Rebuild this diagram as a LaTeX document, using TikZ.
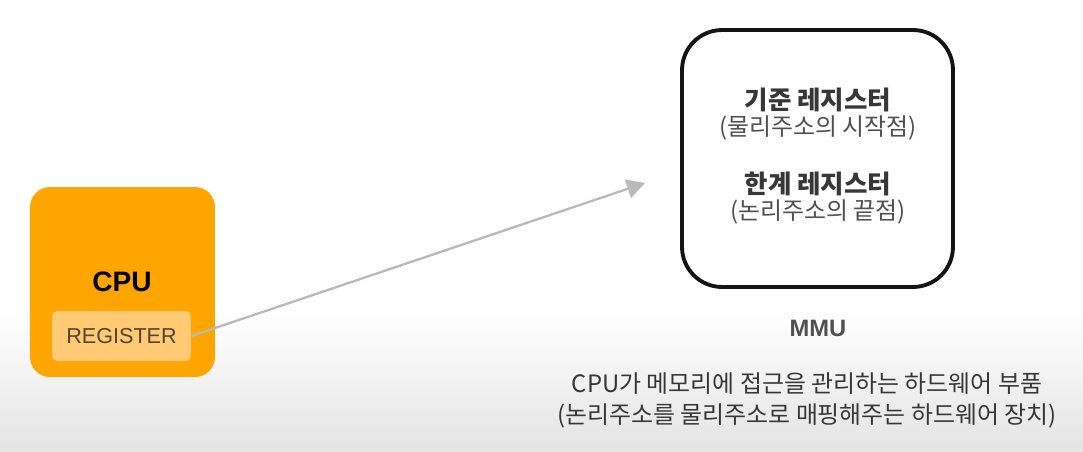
\documentclass[tikz,border=0pt]{standalone}
\usepackage{fontspec}
\setmainfont{Liberation Sans}
\newfontfamily\kr{Noto Sans CJK KR}
\usetikzlibrary{arrows.meta,positioning,calc}
\tikzset{>=Stealth}
\definecolor{CPUcolor}{RGB}{255,165,0}
\definecolor{REGcolor}{RGB}{255,202,115}
\definecolor{REGtext}{RGB}{85,70,45}
\definecolor{Arrowcolor}{RGB}{185,185,185}
\definecolor{Boxcolor}{RGB}{20,20,20}
\definecolor{Titlecolor}{RGB}{55,55,55}
\definecolor{Subcolor}{RGB}{80,80,80}
\definecolor{Bgcolor}{RGB}{228,228,228}

\begin{document}
\begin{tikzpicture}[x=0.02cm,y=-0.02cm,every node/.style={inner sep=0pt}]
\useasboundingbox (0,0) rectangle (1083,451);
\fill[white] (0,0) rectangle (1083,311);
\shade[top color=white,bottom color=Bgcolor] (0,310) rectangle (1083,451);
% cpu side
\node[fill=CPUcolor,rounded corners=0.4cm,minimum width=3.7cm,minimum height=3.8cm] (cpu) at (122.5,282) {};
\node[font=\bfseries\fontsize{16}{18}\selectfont] (cputext) at (122,282) {CPU};
\node[fill=REGcolor,rounded corners=3pt,minimum width=2.78cm,minimum height=1cm,
  text=REGtext,font=\fontsize{12.3}{14}\selectfont] (reg) at (121.5,336) {REGISTER};
% mmu side
\node[draw=Boxcolor,line width=2.2pt,rounded corners=0.8cm,minimum width=5.42cm,minimum height=5.14cm] (mmu) at (817.5,158.5) {};
\foreach \t/\s [count=\i] in {
  {기준 레지스터}/{(물리주소의 시작점)},
  {한계 레지스터}/{(논리주소의 끝점)}
}{
  \node[text=Titlecolor,font=\kr\bfseries\fontsize{14.5}{17}\selectfont] (title\i) at (818,{100+(\i-1)*84}) {\t};
  \node[text=Subcolor,font=\kr\fontsize{13.6}{16}\selectfont] (sub\i) at (818,{128+(\i-1)*84}) {\s};
}
\node[text=Subcolor,font=\bfseries\fontsize{13.5}{16}\selectfont] (mmulabel) at (818,328) {MMU};
\node[align=center,text=Titlecolor,font=\kr\fontsize{13.6}{17.6}\selectfont] (desc) at (807,400.5)
  {CPU가 메모리에 접근을 관리하는 하드웨어 부품\\(논리주소를 물리주소로 매핑해주는 하드웨어 장치)};
% arrow
\coordinate (tip) at (645,183);
\draw[->,>={Triangle[length=0.36cm,width=0.38cm]},Arrowcolor,line width=1.3pt] (reg.east) -- (tip);
\end{tikzpicture}
\end{document}
